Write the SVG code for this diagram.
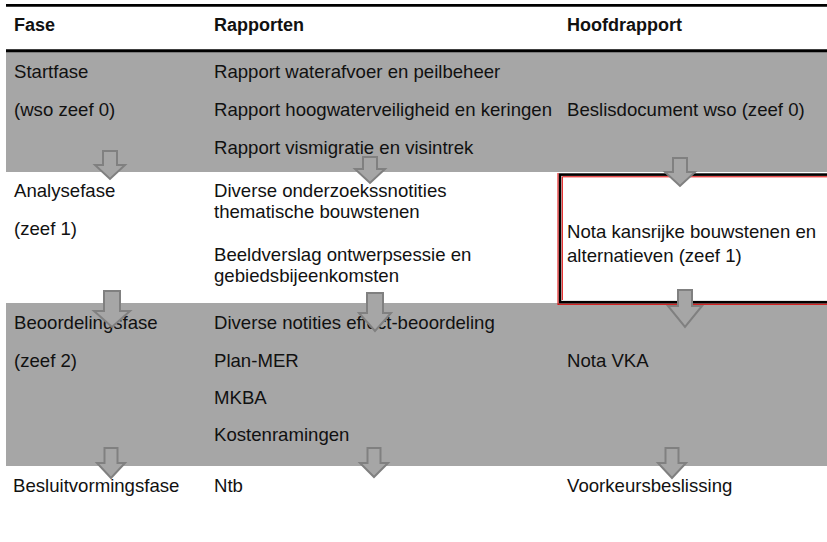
<svg xmlns="http://www.w3.org/2000/svg" width="827" height="542" viewBox="0 0 827 542">
  <style>
    .t { font-family: "Liberation Sans", Arial, sans-serif; font-size: 18.6px; fill: #111; }
    .h { font-family: "Liberation Sans", Arial, sans-serif; font-size: 18px; font-weight: bold; fill: #111; }
    .band { fill: #a6a6a6; }
    .arrow { fill: #a6a6a6; stroke: #808080; stroke-width: 2; stroke-linejoin: miter; }
  </style>

  <rect width="827" height="542" fill="#ffffff"/>

  <!-- row backgrounds -->
  <rect class="band" x="6" y="52" width="821" height="120"/>
  <rect class="band" x="6" y="303" width="821" height="163"/>

  <!-- header rules -->
  <line x1="6" y1="5.3" x2="827" y2="5.3" stroke="#000" stroke-width="2.8"/>
  <line x1="6" y1="50.8" x2="827" y2="50.8" stroke="#000" stroke-width="3"/>

  <!-- header -->
  <g id="header">
    <text class="h" x="14" y="31">Fase</text>
    <text class="h" x="214" y="31">Rapporten</text>
    <text class="h" x="567" y="31">Hoofdrapport</text>
  </g>

  <!-- highlighted main report box -->
  <g id="box-zeef1">
    <rect x="560" y="174.6" width="280" height="127.6" fill="#ffffff" stroke="#000" stroke-width="2.6"/>
    <line x1="558" y1="173" x2="558" y2="305" stroke="#e00000" stroke-width="1"/>
    <line x1="562.3" y1="176.8" x2="827" y2="176.8" stroke="#e00000" stroke-width="1"/>
    <line x1="562.3" y1="176.8" x2="562.3" y2="300" stroke="#e00000" stroke-width="1"/>
    <line x1="558" y1="304.3" x2="827" y2="304.3" stroke="#e00000" stroke-width="1"/>
  </g>

  <!-- Startfase -->
  <g id="startfase">
    <text class="t" x="14" y="78">Startfase</text>
    <text class="t" x="14" y="116">(wso zeef 0)</text>
    <text class="t" x="214" y="78">Rapport waterafvoer en peilbeheer</text>
    <text class="t" x="214" y="116">Rapport hoogwaterveiligheid en keringen</text>
    <text class="t" x="214" y="154">Rapport vismigratie en visintrek</text>
    <text class="t" x="567" y="116">Beslisdocument wso (zeef 0)</text>
  </g>

  <!-- Analysefase -->
  <g id="analysefase">
    <text class="t" x="14" y="197">Analysefase</text>
    <text class="t" x="14" y="235">(zeef 1)</text>
    <text class="t" x="214" y="197">Diverse onderzoekssnotities</text>
    <text class="t" x="214" y="218">thematische bouwstenen</text>
    <text class="t" x="214" y="261">Beeldverslag ontwerpsessie en</text>
    <text class="t" x="214" y="282">gebiedsbijeenkomsten</text>
    <text class="t" x="567" y="238">Nota kansrijke bouwstenen en</text>
    <text class="t" x="567" y="262">alternatieven (zeef 1)</text>
  </g>

  <!-- Beoordelingsfase -->
  <g id="beoordelingsfase">
    <text class="t" x="14" y="329">Beoordelingsfase</text>
    <text class="t" x="14" y="367">(zeef 2)</text>
    <text class="t" x="214" y="329">Diverse notities effect-beoordeling</text>
    <text class="t" x="214" y="367">Plan-MER</text>
    <text class="t" x="214" y="404">MKBA</text>
    <text class="t" x="214" y="441">Kostenramingen</text>
    <text class="t" x="567" y="367">Nota VKA</text>
  </g>

  <!-- Besluitvormingsfase -->
  <g id="besluitvormingsfase">
    <text class="t" x="13" y="492">Besluitvormingsfase</text>
    <text class="t" x="214" y="492">Ntb</text>
    <text class="t" x="567" y="492">Voorkeursbeslissing</text>
  </g>

  <!-- block arrows between phases -->
  <g id="connectors">
    <polygon class="arrow" points="103,151 117,151 117,165 125,165 110,179 95,165 103,165"/>
    <polygon class="arrow" points="363,157 377,157 377,169 385,169 370,183 355,169 363,169"/>
    <polygon class="arrow" points="673,158 687,158 687,172 695,172 680,186 665,172 673,172"/>

    <polygon class="arrow" points="104,291 120,291 120,311 130,311 112,327 94,311 104,311"/>
    <polygon class="arrow" points="367,293 383,293 383,313 391,313 375,331 359,313 367,313"/>
    <polygon class="arrow" points="678,290 692,290 692,306 702,306 685,327 668,306 678,306"/>

    <polygon class="arrow" points="104.5,448 117.5,448 117.5,463 125,463 111,478 97,463 104.5,463"/>
    <polygon class="arrow" points="367.5,448 380.5,448 380.5,463 388,463 374,477 360,463 367.5,463"/>
    <polygon class="arrow" points="665.5,448 678.5,448 678.5,463 686,463 672,478 658,463 665.5,463"/>
  </g>
</svg>
